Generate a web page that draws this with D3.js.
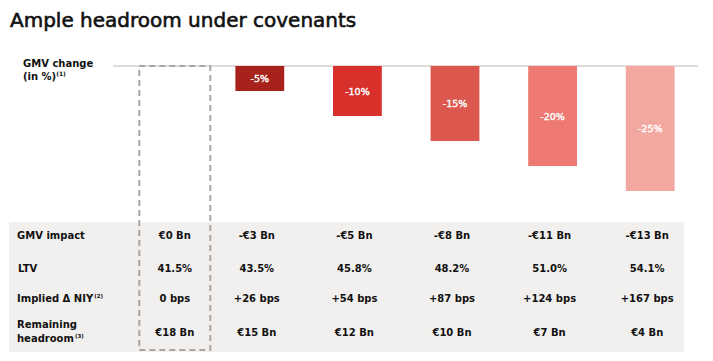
<!DOCTYPE html>
<html><head><meta charset="utf-8">
<script src="https://cdn.jsdelivr.net/npm/d3@7"></script>
<style>
html,body{margin:0;padding:0;background:#fff;}
svg{display:block;font-family:"DejaVu Sans",Verdana,sans-serif;}
</style></head>
<body><svg id="c" width="713" height="361"></svg>
<script>
const scenarios = ["0%","-5%","-10%","-15%","-20%","-25%"];
const gmvChange = [0,-5,-10,-15,-20,-25];
const barLabels = ["","-5%","-10%","-15%","-20%","-25%"];
const barColors = ["none","#a6221a","#d8302a","#dc574e","#ee7872","#f2a8a1"];
const rowLabels = ["GMV impact","LTV","Implied Δ NIY","Remaining headroom"];
const gmvImpact = ["€0 Bn","-€3 Bn","-€5 Bn","-€8 Bn","-€11 Bn","-€13 Bn"];
const ltv = ["41.5%","43.5%","45.8%","48.2%","51.0%","54.1%"];
const niy = ["0 bps","+26 bps","+54 bps","+87 bps","+124 bps","+167 bps"];
const headroom = ["€18 Bn","€15 Bn","€12 Bn","€10 Bn","€7 Bn","€4 Bn"];

const svg = d3.select("#c");

// title
svg.append("text").attr("x",10).attr("y",27).attr("font-size",20).attr("fill","#111")
  .attr("stroke","#111").attr("stroke-width",0.6)
  .text("Ample headroom under covenants");

// table background
svg.append("rect").attr("x",9).attr("y",222).attr("width",675).attr("height",130).attr("fill","#f2f0ee");

// scales
const shocks = scenarios.slice(1);
const x = d3.scaleBand().domain(shocks).range([211,699]).paddingInner(0.5).paddingOuter(0.25);
const baseCenter = x(shocks[0]) + x.bandwidth()/2 - 85;
const cx = (s) => s === scenarios[0] ? baseCenter : x(s) + x.bandwidth()/2;
const y = d3.scaleLinear().domain([0,-25]).range([66,191]);

// axis baseline
svg.append("line").attr("x1",113).attr("x2",698).attr("y1",y(0)).attr("y2",y(0))
  .attr("stroke","#d3cfcb").attr("stroke-width",1.5);

// bars
const data = scenarios.map((s,i)=>({s, v:gmvChange[i], lab:barLabels[i], col:barColors[i]})).slice(1);
svg.selectAll("rect.bar").data(data).join("rect").attr("class","bar")
  .attr("x",d=>x(d.s)).attr("width",x.bandwidth())
  .attr("y",y(0)).attr("height",d=>y(d.v)-y(0)).attr("fill",d=>d.col);
svg.selectAll("text.bl").data(data).join("text").attr("class","bl")
  .attr("x",d=>x(d.s)+x.bandwidth()/2).attr("y",d=>(y(0)+y(d.v))/2+3.5)
  .attr("text-anchor","middle").attr("font-size",9.5).attr("fill","#fff")
  .attr("stroke","#fff").attr("stroke-width",0.4).text(d=>d.lab);

// GMV change label
const gl = svg.append("text").attr("font-size",10).attr("font-weight","bold").attr("fill","#111");
gl.append("tspan").attr("x",23).attr("y",67).text("GMV change");
gl.append("tspan").attr("x",23).attr("y",80).text("(in %)");
gl.append("tspan").attr("font-size",6).attr("dy",-4).text("(1)");

// row labels
const lab = svg.append("g").attr("font-size",10).attr("font-weight","bold").attr("fill","#111");
lab.append("text").attr("x",17).attr("y",239).text(rowLabels[0]);
lab.append("text").attr("x",18).attr("y",272).text(rowLabels[1]);
const t3 = lab.append("text").attr("x",17).attr("y",302).text(rowLabels[2]);
t3.append("tspan").attr("font-size",5.5).attr("dy",-4).attr("dx",1).text("(2)");
const t4 = lab.append("text").attr("x",17).attr("y",328);
t4.append("tspan").attr("x",17).text("Remaining");
t4.append("tspan").attr("x",17).attr("y",342).text("headroom");
t4.append("tspan").attr("font-size",5.5).attr("dy",-4).attr("dx",1).text("(3)");

// table values
const rows = [{vals:gmvImpact,y:239},{vals:ltv,y:272},{vals:niy,y:302},{vals:headroom,y:336}];
rows.forEach(r=>{
  svg.append("g").attr("font-size",10).attr("font-weight","bold").attr("fill","#111")
    .selectAll("text").data(scenarios).join("text")
    .attr("x",(s,i)=> cx(s) - (i===0?0:3)).attr("y",r.y).attr("text-anchor","middle")
    .text((s,i)=>r.vals[i]);
});

// dashed highlight box around base column
svg.append("rect").attr("x",baseCenter-35.5).attr("y",y(0)).attr("width",71).attr("height",350-y(0))
  .attr("fill","none").attr("stroke","#a9a5a2").attr("stroke-width",2).attr("stroke-dasharray","6,4");
</script></body></html>
